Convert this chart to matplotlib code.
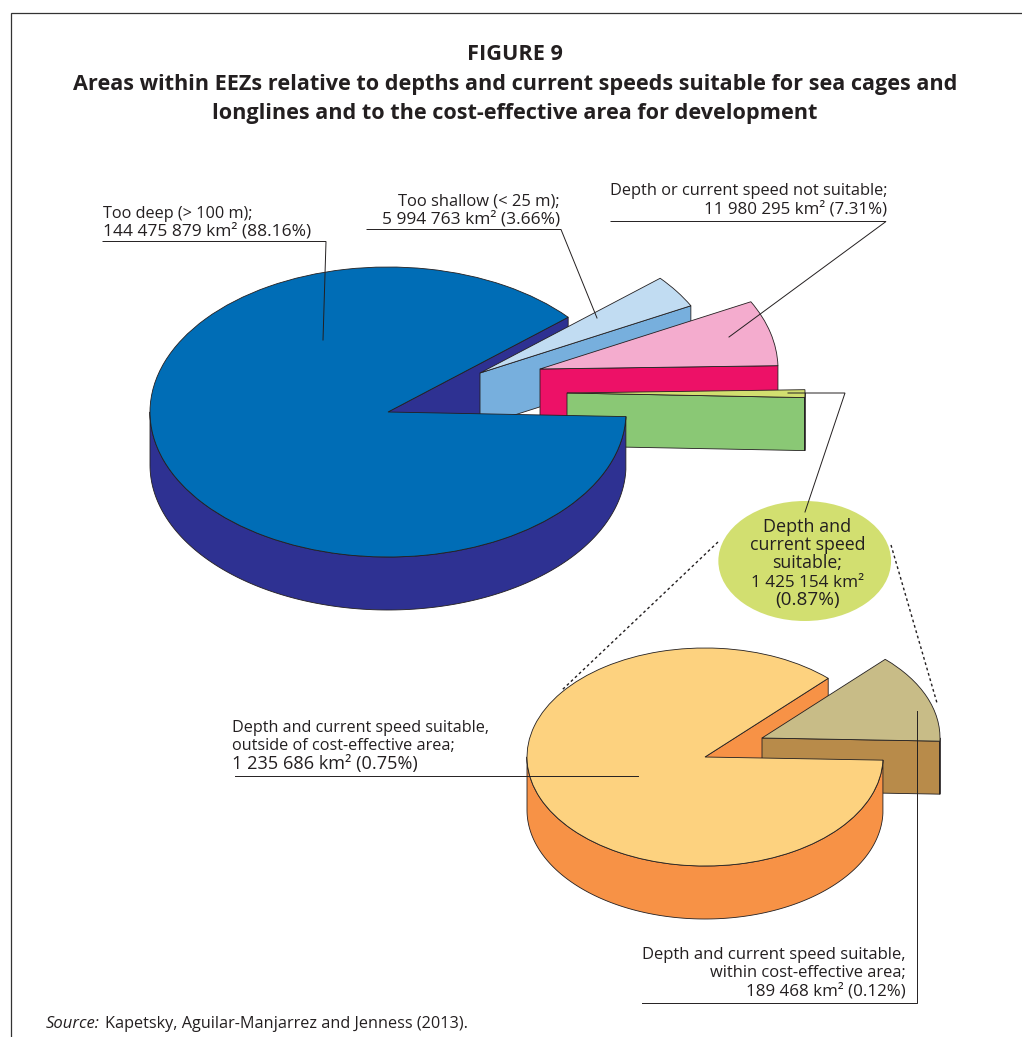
import numpy as np
import matplotlib
matplotlib.use("Agg")
import matplotlib.pyplot as plt
from matplotlib.patches import Wedge, Polygon, Ellipse
from matplotlib.transforms import Affine2D

# ---- data ----
main_labels = ["Too deep", "Too shallow", "Depth or current speed not suitable", "Depth and current speed suitable"]
main_areas = [144475879, 5994763, 11980295, 1425154]
sub_labels = ["Outside of cost-effective area", "Within cost-effective area"]
sub_areas = [1235686, 189468]

main_top = ["#006DB6", "#C1DCF2", "#F4ACCE", "#D2DF70"]
main_side = ["#2E3192", "#77AFDD", "#ED1167", "#8AC875"]
sub_top = ["#FDD27F", "#C8BC87"]
sub_side = ["#F79246", "#B88B4A"]

INK = "#231F20"
plt.rcParams["font.family"] = ["Open Sans", "DejaVu Sans"]

fig = plt.figure(figsize=(10.22, 10.37), dpi=100)
ax = fig.add_axes([0, 0, 1, 1])
ax.set_xlim(0, 1022)
ax.set_ylim(1037, 0)
ax.axis("off")


def pt(cx, cy, rx, ry, deg):
    a = np.radians(deg)
    return np.array([cx + rx * np.cos(a), cy - ry * np.sin(a)])


def face(pts, color, z):
    ax.add_patch(Polygon(pts, closed=True, facecolor=color, edgecolor=INK, lw=0.6, zorder=z, joinstyle="round"))


def top(cx, cy, rx, ry, t1, t2, color, z):
    tr = Affine2D().scale(rx, -ry).translate(cx, cy) + ax.transData
    ax.add_patch(Wedge((0, 0), 1, t1, t2, transform=tr, facecolor=color, edgecolor=INK, lw=0.6, zorder=z))


def cut_face(cx, cy, rx, ry, depth, deg, color, z):
    p = pt(cx, cy, rx, ry, deg)
    d = np.array([0, depth])
    face([(cx, cy), p, p + d, np.array([cx, cy]) + d], color, z)


def outer_wall(cx, cy, rx, ry, depth, t1, t2, color, z):
    th = np.linspace(t1, t2, 160)
    up = np.array([pt(cx, cy, rx, ry, t) for t in th])
    face(np.vstack([up, (up + [0, depth])[::-1]]), color, z)


def pie3d(areas, start, centre, radii, depth, offsets, tops, sides):
    """First slice runs counter-clockwise from `start`; the others run clockwise below it."""
    cx, cy = centre
    rx, ry = radii
    sweeps = 360 * np.array(areas, float) / sum(areas)
    t1, t2 = start, start + sweeps[0]
    cut_face(cx, cy, rx, ry, depth, t1, sides[0], 1)
    z = 2
    hi = start
    for i in range(1, len(areas)):
        lo = hi - sweeps[i]
        ox, oy = offsets[i - 1]
        c2x, c2y = cx + ox, cy + oy
        cut_face(c2x, c2y, rx, ry, depth, lo, sides[i], z)
        if lo < 0:
            outer_wall(c2x, c2y, rx, ry, depth, lo, min(hi, 0), sides[i], z)
        top(c2x, c2y, rx, ry, lo, hi, tops[i], z + 0.5)
        z += 1
        hi = lo
    outer_wall(cx, cy, rx, ry, depth, 180, t2, sides[0], 50)
    top(cx, cy, rx, ry, t1, t2, tops[0], 51)


pie3d(main_areas, 40.8, (388, 412), (238, 145), 53,
      [(92, -39), (152, -43), (179, -19)], main_top, main_side)
pie3d(sub_areas, 46.2, (705, 757), (178, 109), 53,
      [(57, -19)], sub_top, sub_side)

# Bubble
ax.add_patch(Ellipse((804.7, 561), 172.7, 120, facecolor="#D2DF70", edgecolor="none", zorder=60))

# Frame
ax.plot([10.5, 10.5, 1022], [1037, 12.5, 12.5], color="#333333", lw=0.9, zorder=70, solid_joinstyle="miter")

# Leader lines
leaders = [
    ([103, 326, 323], [241.5, 241.5, 340]),
    ([367, 561, 597], [229.5, 229.5, 318]),
    ([611, 886, 729], [221.5, 221.5, 337]),
    ([788, 845, 805], [393, 393, 512]),
    ([235, 638], [776, 776]),
    ([917, 917, 642], [711, 1002.5, 1002.5]),
]
for xs, ys in leaders:
    ax.plot(xs, ys, color=INK, lw=0.7, zorder=80, solid_joinstyle="miter")
for xs, ys in [([718, 562], [542, 690]), ([891, 937], [545, 703])]:
    ax.plot(xs, ys, color=INK, lw=1.0, zorder=80, dashes=(2, 2))


# Texts
def lab(x, y, s, ha="left", fs=11.7, **kw):
    ax.text(x, y, s, ha=ha, va="baseline", fontsize=fs, color=INK, zorder=90, **kw)


TF = 15.55
lab(515, 60, "FIGURE 9", "center", TF, fontweight="bold")
lab(515, 90, "Areas within EEZs relative to depths and current speeds suitable for sea cages and", "center", TF, fontweight="bold")
lab(515, 119, "longlines and to the cost-effective area for development", "center", TF, fontweight="bold")

lab(103, 218, "Too deep (> 100 m);", fs=11.7)
lab(103, 236, "144 475 879 km² (88.16%)", fs=12.55)
lab(560, 205, "Too shallow (< 25 m);", "right", 11.85)
lab(560, 223, "5 994 763 km² (3.66%)", "right", 12.5)
lab(887, 195, "Depth or current speed not suitable;", "right", 11.75)
lab(887, 213, "11 980 295 km² (7.31%)", "right", 12.2)
for y, s, f in zip([532, 550, 568, 587, 605],
                   ["Depth and", "current speed", "suitable;", "1 425 154 km²", "(0.87%)"],
                   [13.0, 12.8, 12.8, 12.3, 13.6]):
    lab(807.5, y, s, "center", f)
lab(232, 732, "Depth and current speed suitable,", fs=11.65)
lab(232, 750, "outside of cost-effective area;", fs=11.7)
lab(232, 769, "1 235 686 km² (0.75%)", fs=13.1)
lab(906, 959, "Depth and current speed suitable,", "right", 11.95)
lab(906, 977, "within cost-effective area;", "right", 11.9)
lab(906, 995.5, "189 468 km² (0.12%)", "right", 12.2)

lab(46, 1028, "Source:", fs=12.0, style="italic")
lab(105, 1028, "Kapetsky, Aguilar-Manjarrez and Jenness (2013).", fs=11.67)

fig.savefig("out.png", dpi=100, facecolor="white")
